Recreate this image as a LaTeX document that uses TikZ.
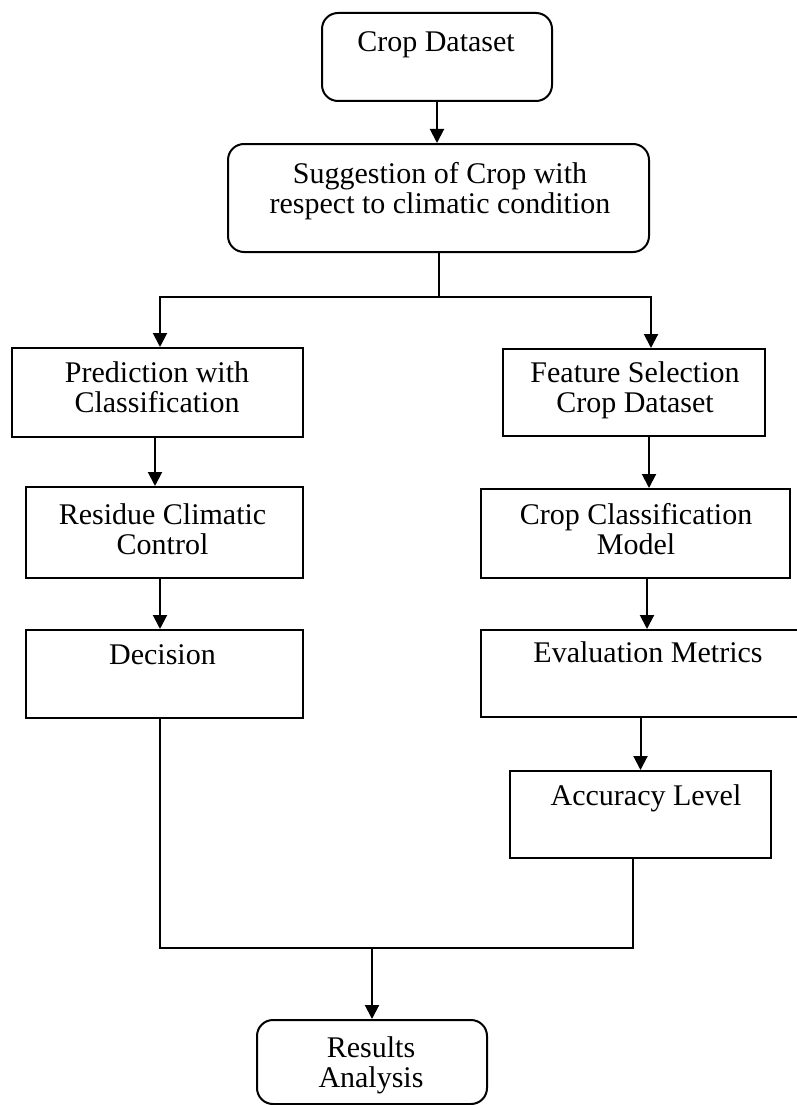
\documentclass[tikz,border=0pt]{standalone}
\usepackage{fontspec}
\setmainfont{Liberation Serif}
\usetikzlibrary{arrows.meta}
\tikzset{
	box/.style={draw, line width=2pt, inner sep=0pt},
	rbox/.style={box, rounded corners=16pt},
	lbl/.style={anchor=base, align=center, inner sep=0pt, font=\fontsize{30}{30}\selectfont},
	ln/.style={line width=2pt},
	arr/.style={ln, -{Triangle[width=14pt,length=14pt]}}
}
\begin{document}
\begin{tikzpicture}[x=1pt, y=-1pt]
		\useasboundingbox (0,0) rectangle (797,1105);
		%top boxes
		\node[rbox, minimum width=230pt, minimum height=88pt] (crop) at (437,57){};
		\node[lbl] (cropt) at (436,52){Crop Dataset};
		\node[rbox, minimum width=421pt, minimum height=108pt] (sugg) at (438.5,198){};
		\node[lbl] (suggt) at (440,213){Suggestion of Crop with\\respect to climatic condition};
		\draw[arr] (crop.south) -- (crop.south |- sugg.north);
		
		%left branch
		\node[box, minimum width=291pt, minimum height=89pt] (pred) at (157.5,392.5){};
		\node[lbl] (predt) at (157,412){Prediction with\\Classification};
		\node[box, minimum width=277pt, minimum height=91pt] (resid) at (164.5,532.5){};
		\node[lbl] (residt) at (162.5,554){Residue Climatic\\Control};
		\node[box, minimum width=277pt, minimum height=88pt] (dec) at (164.5,674){};
		\node[lbl] (dect) at (162.5,664){Decision};
		
		%right branch
		\node[box, minimum width=262pt, minimum height=87pt] (feat) at (634,392.5){};
		\node[lbl] (featt) at (635,412){Feature Selection\\Crop Dataset};
		\node[box, minimum width=309pt, minimum height=89pt] (cls) at (635.5,533.5){};
		\node[lbl] (clst) at (636,554){Crop Classification\\Model};
		\node[box, minimum width=329pt, minimum height=87pt] (eval) at (645.5,673.5){};
		\node[lbl] (evalt) at (648,662){Evaluation Metrics};
		\node[box, minimum width=261pt, minimum height=87pt] (acc) at (640.5,814.5){};
		\node[lbl] (acct) at (646,805){Accuracy Level};
		
		%bottom
		\node[rbox, minimum width=230pt, minimum height=84pt] (res) at (372,1062){};
		\node[lbl] (rest) at (371,1087){Results\\Analysis};
		
		%connectors
		\draw[ln] (sugg.south) -- ++(0,44) coordinate (split);
		\draw[arr] (split) -| ([xshift=2.5pt]pred.north);
		\draw[arr] (split) -| ([xshift=17pt]feat.north);
		\draw[arr] ([xshift=-2.5pt]pred.south) -- ([xshift=-2.5pt]pred.south |- resid.north);
		\draw[arr] ([xshift=-4.5pt]resid.south) -- ([xshift=-4.5pt]resid.south |- dec.north);
		\draw[arr] ([xshift=15pt]feat.south) -- ([xshift=15pt]feat.south |- cls.north);
		\draw[arr] ([xshift=11.5pt]cls.south) -- ([xshift=11.5pt]cls.south |- eval.north);
		\draw[arr] (eval.south -| acc.north) -- (acc.north);
		
		\coordinate (join) at (372,948);
		\draw[ln] ([xshift=-4.5pt]dec.south) -- ([xshift=-4.5pt]dec.south |- join) -- ([xshift=-7.5pt]acc.south |- join) -- ([xshift=-7.5pt]acc.south);
		\draw[arr] (join) -- (res);
\end{tikzpicture}
\end{document}
